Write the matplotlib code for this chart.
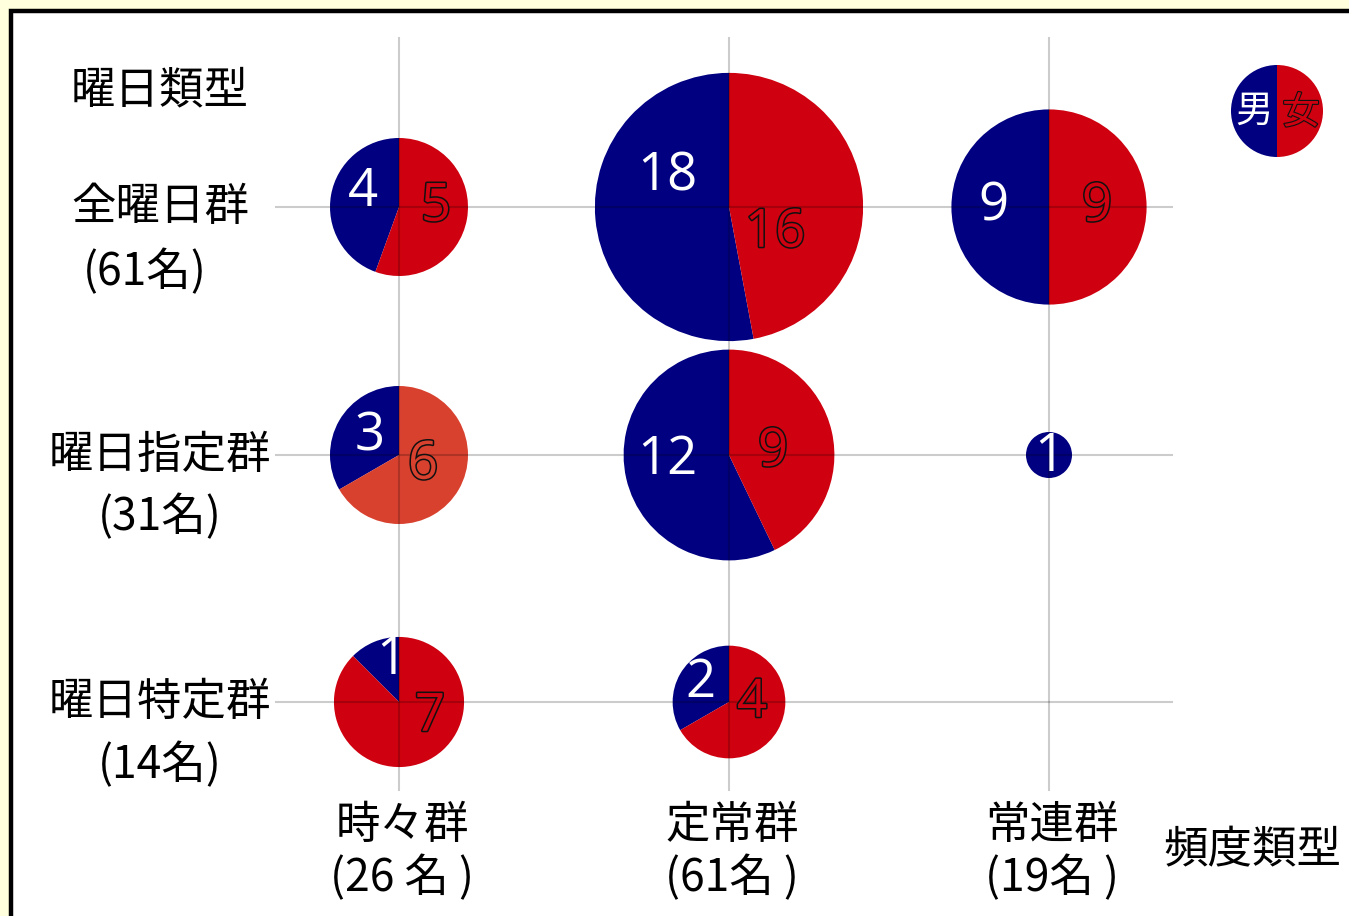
"""Pie grid: weekday type x visit frequency type, split by male / female."""

import numpy as np
import matplotlib

matplotlib.use("Agg")
import matplotlib.pyplot as plt
from matplotlib.patches import Rectangle
import matplotlib.patheffects as pe

plt.rcParams["font.family"] = ["Noto Sans CJK JP", "DejaVu Sans"]

# Rows: weekday type, columns: frequency type
ROW_NAMES = ["全曜日群", "曜日指定群", "曜日特定群"]
ROW_COUNTS = ["(61名)", "(31名)", "(14名)"]
COL_NAMES = ["時々群", "定常群", "常連群"]
COL_COUNTS = ["(26 名 )", "(61名 )", "(19名 )"]
MALE = [[4, 18, 9],
        [3, 12, 1],
        [1, 2, 0]]
FEMALE = [[5, 16, 9],
          [6, 9, 0],
          [7, 4, 0]]

W, H = 1349, 916
BLUE = "#000080"
RED = "#cf000f"
RED_ALT = "#d9412f"
NUM_FONT = dict(family=["Open Sans", "DejaVu Sans"], fontweight="normal", fontsize=38)

# layout in pixels (y measured from the top)
COL_X = [399, 729, 1049]
ROW_Y = [207, 455, 702]
UNIT_R = 23.0
BLUE_OFF = [[(-36, -15), (-62, -30), (-56, 0)],
            [(-29, -18), (-62, 5), (0, 2)],
            [(-8, -42), (-29, -19), None]]
RED_OFF = [[(37, 0), (46, 26), (48, 0)],
           [(24, 10), (44, -3), None],
           [(31, 15), (23, 1), None]]


def Y(y):
    return H - y


fig = plt.figure(figsize=(W / 100, H / 100), dpi=100, facecolor="#ffffdd")
ax = fig.add_axes([0, 0, 1, 1])

# white panel with a heavy black frame running off the right/bottom edge
ax.add_patch(Rectangle((11, -20), W + 20, Y(11) + 20, facecolor="white",
                       edgecolor="black", linewidth=3.2, zorder=0))

# grid through the pie centres, drawn over the pies so it shows faintly
for x in COL_X:
    ax.plot([x, x], [Y(38), Y(790)], color="black", alpha=0.2, lw=1.5, zorder=5)
for y in ROW_Y:
    ax.plot([276, 1172], [Y(y), Y(y)], color="black", alpha=0.2, lw=1.5, zorder=5)

outline = [pe.withStroke(linewidth=2.2, foreground="#111111")]

for i, (males, females) in enumerate(zip(MALE, FEMALE)):
    for j, (m, f) in enumerate(zip(males, females)):
        total = m + f
        if total == 0:
            continue
        cx, cy = COL_X[j], Y(ROW_Y[i])
        red = RED_ALT if (i, j) == (1, 0) else RED
        vals = [v for v in (m, f) if v > 0]
        cols = [c for v, c in zip((m, f), (BLUE, red)) if v > 0]
        ax.pie(vals, colors=cols, startangle=90, counterclock=True,
               center=(cx, cy), radius=UNIT_R * np.sqrt(total), frame=True,
               wedgeprops=dict(linewidth=0, zorder=2))
        if m:
            dx, dy = BLUE_OFF[i][j]
            ax.text(cx + dx, cy - dy, str(m), color="white", ha="center",
                    va="center", zorder=6, **NUM_FONT)
        if f:
            dx, dy = RED_OFF[i][j]
            ax.text(cx + dx, cy - dy, str(f), color=red, ha="center",
                    va="center", zorder=6, path_effects=outline, **NUM_FONT)

# axis titles and category labels
jp = dict(fontsize=32, color="black", ha="center", va="center")
ax.text(160, Y(90), "曜日類型", **jp)
ax.text(1252, Y(850), "頻度類型", **jp)
row_count_x = [145, 160, 160]
row_count_y = [272, 517, 765]
for name, cnt, y, cxl, cyl in zip(ROW_NAMES, ROW_COUNTS, ROW_Y, row_count_x, row_count_y):
    ax.text(160, Y(y), name, **jp)
    ax.text(cxl, Y(cyl), cnt, **jp)
for name, cnt, x in zip(COL_NAMES, COL_COUNTS, COL_X):
    ax.text(x + 3, Y(825), name, **jp)
    ax.text(x + 3, Y(878), cnt, **jp)

# sex key
ax.pie([1, 1], colors=[BLUE, RED], startangle=90, counterclock=True,
       center=(1277, Y(111)), radius=46, frame=True,
       wedgeprops=dict(linewidth=0, zorder=2))
ax.text(1254, Y(111), "男", color="white", fontsize=27, ha="center", va="center", zorder=6)
ax.text(1301, Y(113), "女", color=RED, fontsize=27, ha="center", va="center",
        zorder=6, path_effects=[pe.withStroke(linewidth=1.6, foreground="#111111")])

ax.set_xlim(0, W)
ax.set_ylim(0, H)
ax.set_aspect("equal")
ax.axis("off")

fig.savefig("out.png", dpi=100, facecolor=fig.get_facecolor())
